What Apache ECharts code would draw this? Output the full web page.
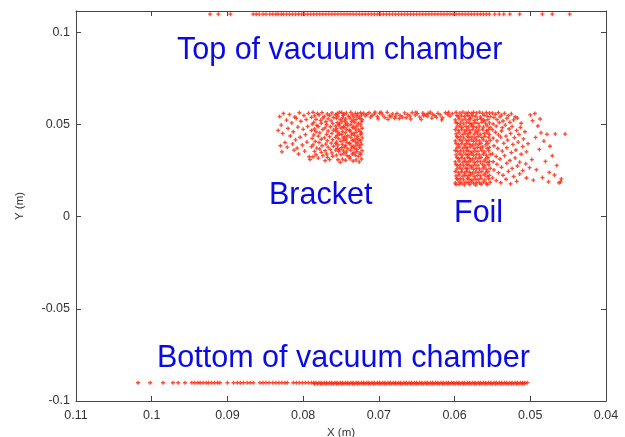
<!DOCTYPE html>
<html><head><meta charset="utf-8">
<script src="https://cdn.jsdelivr.net/npm/echarts@6/dist/echarts.min.js"></script>
<style>html,body{margin:0;padding:0;background:#fff}#c{width:625px;height:437px}</style>
</head><body><div id="c"></div>
<script>
// Tick labels
const xTicks = [0.11, 0.1, 0.09, 0.08, 0.07, 0.06, 0.05, 0.04];
const yTicks = [-0.1, -0.05, 0, 0.05, 0.1];

// Hits on the top of the vacuum chamber (y ~ 0.11)
const topY = 0.1099;
const topX = [.0923,.0912,.0896,.0866,.0862,.0858,.0853,.0849,.0844,.0840,.0836,.0833,.0829,
.0826,.0822,.0818,.0814,.0810,.0806,.0802,.0798,.0794,.0790,.0786,.0782,.0778,.0774,.0770,.0766,.0762,.0758,.0754,.0750,
.0746,.0742,.0738,.0734,.0730,.0726,.0722,.0718,.0714,.0710,.0706,.0702,.0698,.0694,.0690,.0686,.0682,.0678,.0674,.0670,
.0666,.0662,.0658,.0654,.0650,.0646,.0642,.0638,.0634,.0630,.0626,.0622,.0618,.0614,.0610,.0606,.0602,.0598,.0594,.0590,
.0586,.0582,.0578,.0574,.0570,.0566,.0562,.0558,.0554,
.0547,.0541,.0535,.0527,.0514,.0484,.0471,.0448];

// Hits on the bottom of the vacuum chamber (y ~ -0.09)
const bottomY = -0.0901;
const bottomX = [.1018,.1002,.0985,.0972,.0965,.0956,
.0947,.0943,.0939,.0936,.0932,.0928,.0925,.0921,.0917,.0913,.0910,.0900,
.0892,.0887,.0883,.0879,.0874,.0870,.0866,.0857,.0853,.0849,.0845,.0840,.0836,.0832,.0828,.0824,.0821,
.0813,.0809,.0805,.0801,.0797,.0793,.0789,
.0786,.0783,.0779,.0776,.0772,.0769,.0765,.0762,.0758,.0755,.0751,.0748,.0744,.0741,.0737,.0734,.0730,.0727,.0723,.0720,
.0716,.0713,.0709,.0706,.0702,.0699,.0695,.0692,.0688,.0685,.0681,.0678,.0674,.0671,.0667,.0664,.0660,.0657,.0653,.0650,
.0646,.0643,.0639,.0636,.0632,.0629,.0625,.0622,.0618,.0615,.0611,.0608,.0604,.0601,.0597,.0594,.0590,.0587,.0583,.0580,
.0576,.0573,.0569,.0566,.0562,.0559,.0555,.0552,.0548,.0545,.0541,.0538,.0534,.0531,.0527,.0524,.0520,.0517,.0513,.0510,.0507,.0504];
// The dense part of the bottom band is a thick solid streak: second row of hits
const bottomY2 = -0.0906;
const bottomX2 = [.0785,.0781,.0777,.0774,.0770,.0767,.0763,.0760,.0756,.0753,.0749,.0746,.0742,.0739,.0735,.0732,.0728,.0725,.0721,
.0718,.0714,.0711,.0707,.0704,.0700,.0697,.0693,.0690,.0686,.0683,.0679,.0676,.0672,.0669,.0665,.0662,.0658,.0655,.0651,.0648,
.0644,.0641,.0637,.0634,.0630,.0627,.0623,.0620,.0616,.0613,.0609,.0606,.0602,.0599,.0595,.0592,.0588,.0585,.0581,.0578,
.0574,.0571,.0567,.0564,.0560,.0557,.0553,.0550,.0546,.0543,.0539,.0536,.0532,.0529,.0525,.0522,.0518,.0515,.0511,.0508];

// Hits on the bracket
const bracket = [
[.0724,.0564],[.0731,.0561],[.0737,.0566],[.0743,.0562],[.0749,.0565],[.0755,.0560],[.0728,.0558],[.0746,.0557],[.0752,.0567],
[.0723,.0551],[.0729,.0547],[.0735,.0553],[.0740,.0545],[.0747,.0550],[.0754,.0546],[.0733,.0542],[.0757,.0553],[.0726,.0540],
[.0725,.0533],[.0730,.0528],[.0738,.0535],[.0744,.0530],[.0751,.0526],[.0756,.0534],[.0734,.0524],[.0748,.0537],[.0722,.0526],
[.0723,.0515],[.0732,.0511],[.0736,.0518],[.0742,.0508],[.0749,.0514],[.0755,.0510],[.0727,.0506],[.0745,.0519],[.0752,.0504],
[.0724,.0498],[.0729,.0492],[.0737,.0500],[.0741,.0494],[.0747,.0489],[.0753,.0497],[.0733,.0487],[.0757,.0491],[.0744,.0502],
[.0722,.0480],[.0731,.0476],[.0735,.0483],[.0743,.0474],[.0750,.0481],[.0756,.0477],[.0727,.0471],[.0746,.0485],[.0739,.0469],
[.0725,.0463],[.0730,.0458],[.0738,.0465],[.0744,.0456],[.0748,.0462],[.0754,.0459],[.0734,.0452],[.0757,.0466],[.0723,.0454],
[.0724,.0446],[.0732,.0441],[.0736,.0448],[.0741,.0439],[.0749,.0445],[.0755,.0442],[.0728,.0436],[.0745,.0434],[.0752,.0449],
[.0722,.0428],[.0729,.0423],[.0737,.0430],[.0743,.0421],[.0747,.0427],[.0753,.0424],[.0733,.0418],[.0757,.0431],[.0726,.0416],
[.0724,.0411],[.0731,.0406],[.0735,.0413],[.0742,.0403],[.0750,.0409],[.0756,.0405],[.0728,.0400],[.0746,.0414],[.0739,.0398],
[.0723,.0393],[.0730,.0388],[.0738,.0395],[.0744,.0386],[.0748,.0392],[.0754,.0389],[.0734,.0382],[.0757,.0396],[.0726,.0384],
[.0725,.0375],[.0732,.0370],[.0736,.0377],[.0741,.0368],[.0749,.0374],[.0755,.0371],[.0729,.0365],[.0745,.0378],[.0752,.0364],
[.0722,.0358],[.0729,.0353],[.0737,.0360],[.0743,.0351],[.0747,.0357],[.0753,.0354],[.0733,.0347],[.0757,.0361],[.0725,.0345],
[.0724,.0338],[.0731,.0333],[.0735,.0340],[.0742,.0331],[.0750,.0337],[.0756,.0334],[.0727,.0327],[.0746,.0342],[.0739,.0325],
[.0723,.0313],[.0730,.0308],[.0738,.0315],[.0744,.0306],[.0748,.0312],[.0754,.0309],[.0734,.0302],[.0726,.0297],[.0751,.0295],
[.0762,.0563],[.0768,.0557],[.0775,.0565],[.0781,.0560],[.0787,.0566],[.0765,.0549],[.0772,.0544],[.0779,.0552],[.0785,.0547],[.0760,.0538],
[.0767,.0531],[.0774,.0536],[.0783,.0528],[.0789,.0539],[.0763,.0520],[.0770,.0515],[.0777,.0523],[.0786,.0512],[.0761,.0505],[.0769,.0499],
[.0776,.0507],[.0782,.0495],[.0788,.0502],[.0764,.0488],[.0771,.0482],[.0780,.0490],[.0785,.0476],[.0760,.0470],[.0767,.0465],[.0774,.0473],
[.0783,.0461],[.0789,.0468],[.0762,.0452],[.0769,.0447],[.0778,.0455],[.0786,.0443],[.0765,.0434],[.0772,.0428],[.0780,.0437],[.0788,.0425],
[.0761,.0418],[.0768,.0412],[.0776,.0420],[.0784,.0408],[.0763,.0399],[.0770,.0394],[.0779,.0402],[.0787,.0390],[.0760,.0382],[.0767,.0377],
[.0775,.0385],[.0782,.0372],[.0789,.0380],[.0764,.0364],[.0771,.0358],[.0778,.0367],[.0785,.0354],[.0762,.0346],[.0769,.0340],[.0776,.0349],
[.0783,.0336],[.0761,.0328],[.0768,.0322],[.0774,.0331],[.0780,.0318],[.0765,.0310],[.0771,.0304],[.0787,.0325],
[.0793,.0561],[.0799,.0549],[.0805,.0564],[.0811,.0541],[.0818,.0555],[.0826,.0560],[.0831,.0543],[.0796,.0527],[.0803,.0518],[.0809,.0533],
[.0815,.0509],[.0822,.0524],[.0829,.0497],[.0794,.0490],[.0800,.0474],[.0807,.0486],[.0813,.0461],[.0820,.0479],[.0827,.0452],[.0833,.0468],
[.0797,.0445],[.0804,.0431],[.0810,.0417],[.0817,.0438],[.0824,.0402],[.0795,.0405],[.0801,.0389],[.0808,.0372],[.0814,.0395],[.0821,.0377],
[.0830,.0385],[.0798,.0356],[.0806,.0340],[.0792,.0325],[.0812,.0361],[.0828,.0352],[.0791,.0310]];

// Hits along the top strip between bracket and foil
const strip = [
[.0720,.0561],[.0716,.0555],[.0713,.0564],[.0709,.0549],[.0706,.0558],[.0702,.0543],[.0699,.0562],[.0695,.0552],[.0692,.0538],[.0689,.0566],
[.0686,.0547],[.0682,.0557],[.0679,.0534],[.0676,.0560],[.0672,.0550],[.0669,.0541],[.0666,.0563],[.0662,.0555],[.0659,.0546],[.0656,.0565],
[.0652,.0551],[.0649,.0559],[.0646,.0540],[.0642,.0562],[.0639,.0553],[.0636,.0545],[.0632,.0567],[.0629,.0556],[.0626,.0548],[.0622,.0561],
[.0619,.0552],[.0616,.0537],[.0612,.0564],[.0609,.0555],[.0606,.0546],[.0603,.0559],[.0701,.0531],[.0688,.0528],[.0673,.0533],[.0658,.0530],
[.0644,.0527],[.0630,.0535],[.0617,.0525],[.0711,.0540],[.0697,.0566],[.0684,.0542],[.0664,.0537],[.0651,.0567],[.0635,.0560],[.0624,.0539],
[.0608,.0566],[.0718,.0547],[.0705,.0567],[.0678,.0546],[.0641,.0549]];

// Hits on the foil
const foil = [
[.0598,.0566],[.0593,.0562],[.0589,.0567],[.0585,.0561],[.0582,.0565],[.0578,.0560],[.0575,.0566],[.0571,.0563],[.0567,.0567],[.0563,.0561],[.0558,.0565],[.0554,.0562],
[.0597,.0549],[.0595,.0543],[.0591,.0547],[.0587,.0544],[.0583,.0550],[.0580,.0542],[.0576,.0548],[.0572,.0545],[.0566,.0541],[.0561,.0550],[.0557,.0546],[.0553,.0543],
[.0599,.0525],[.0594,.0531],[.0590,.0524],[.0586,.0529],[.0581,.0526],[.0579,.0532],[.0574,.0523],[.0570,.0528],[.0565,.0530],[.0562,.0524],[.0556,.0527],[.0560,.0520],
[.0598,.0511],[.0596,.0505],[.0592,.0509],[.0588,.0504],[.0584,.0512],[.0580,.0507],[.0577,.0503],[.0573,.0510],[.0569,.0506],[.0564,.0512],[.0559,.0504],[.0554,.0509],
[.0597,.0487],[.0593,.0492],[.0590,.0485],[.0585,.0490],[.0582,.0486],[.0578,.0493],[.0575,.0488],[.0571,.0484],[.0567,.0491],[.0562,.0486],[.0557,.0493],[.0553,.0484],
[.0599,.0472],[.0595,.0467],[.0591,.0473],[.0587,.0466],[.0584,.0471],[.0580,.0468],[.0576,.0474],[.0572,.0465],[.0568,.0470],[.0563,.0473],[.0558,.0467],[.0555,.0472],
[.0598,.0449],[.0594,.0455],[.0589,.0447],[.0586,.0453],[.0582,.0450],[.0579,.0456],[.0574,.0448],[.0570,.0454],[.0566,.0446],[.0561,.0452],[.0557,.0455],[.0554,.0447],
[.0597,.0435],[.0596,.0429],[.0592,.0434],[.0588,.0428],[.0583,.0436],[.0581,.0430],[.0577,.0433],[.0573,.0427],[.0569,.0435],[.0564,.0429],[.0560,.0436],[.0555,.0431],
[.0599,.0411],[.0593,.0416],[.0590,.0410],[.0585,.0415],[.0582,.0412],[.0578,.0417],[.0575,.0409],[.0571,.0414],[.0567,.0411],[.0562,.0417],[.0558,.0409],[.0553,.0414],
[.0598,.0397],[.0595,.0391],[.0591,.0396],[.0587,.0390],[.0584,.0398],[.0580,.0393],[.0576,.0389],[.0572,.0395],[.0568,.0392],[.0565,.0398],[.0559,.0390],[.0556,.0396],
[.0597,.0373],[.0594,.0378],[.0589,.0372],[.0586,.0377],[.0583,.0374],[.0579,.0379],[.0574,.0371],[.0570,.0376],[.0566,.0373],[.0563,.0378],[.0557,.0371],[.0554,.0376],
[.0599,.0359],[.0596,.0353],[.0592,.0358],[.0588,.0352],[.0584,.0360],[.0581,.0355],[.0577,.0351],[.0573,.0357],[.0569,.0354],[.0564,.0359],[.0560,.0352],[.0555,.0358],
[.0598,.0335],[.0593,.0340],[.0590,.0334],[.0585,.0339],[.0582,.0336],[.0578,.0341],[.0575,.0333],[.0571,.0338],[.0567,.0335],[.0562,.0340],[.0558,.0333],[.0553,.0338],
[.0597,.0321],[.0595,.0315],[.0591,.0320],[.0587,.0314],[.0583,.0322],[.0580,.0317],[.0576,.0313],[.0572,.0319],[.0568,.0316],[.0565,.0321],[.0559,.0314],[.0556,.0320],
[.0599,.0297],[.0594,.0302],[.0589,.0296],[.0586,.0301],[.0582,.0298],[.0579,.0303],[.0574,.0295],[.0570,.0300],[.0566,.0297],[.0561,.0302],[.0557,.0295],[.0554,.0300],
[.0598,.0283],[.0596,.0277],[.0592,.0282],[.0588,.0276],[.0584,.0284],[.0581,.0279],[.0577,.0275],[.0573,.0281],[.0569,.0278],[.0563,.0283],[.0560,.0276],[.0555,.0282],
[.0597,.0259],[.0593,.0264],[.0590,.0258],[.0585,.0263],[.0583,.0260],[.0578,.0265],[.0575,.0257],[.0571,.0262],[.0567,.0259],[.0562,.0264],[.0558,.0257],[.0553,.0262],
[.0599,.0245],[.0595,.0239],[.0591,.0244],[.0587,.0238],[.0584,.0246],[.0580,.0241],[.0576,.0237],[.0572,.0243],[.0568,.0240],[.0564,.0245],[.0559,.0238],[.0556,.0244],
[.0598,.0221],[.0594,.0226],[.0589,.0220],[.0586,.0225],[.0582,.0222],[.0579,.0227],[.0574,.0219],[.0570,.0224],[.0566,.0221],[.0561,.0226],[.0557,.0219],[.0554,.0224],
[.0597,.0207],[.0596,.0201],[.0592,.0206],[.0588,.0200],[.0583,.0208],[.0581,.0203],[.0577,.0199],[.0573,.0205],[.0569,.0202],[.0565,.0207],[.0560,.0200],[.0555,.0206],
[.0599,.0183],[.0593,.0188],[.0590,.0182],[.0585,.0187],[.0582,.0184],[.0578,.0189],[.0575,.0181],[.0571,.0186],[.0567,.0183],[.0562,.0188],[.0558,.0181],[.0553,.0186],
[.0598,.0174],[.0594,.0176],[.0587,.0173],[.0580,.0175],[.0572,.0172],[.0565,.0176],[.0557,.0174],
[.0550,.0563],[.0546,.0556],[.0542,.0565],[.0538,.0551],[.0534,.0561],[.0529,.0548],[.0525,.0558],[.0520,.0541],[.0548,.0538],[.0544,.0527],
[.0540,.0542],[.0536,.0519],[.0531,.0533],[.0527,.0512],[.0522,.0525],[.0517,.0535],[.0512,.0507],[.0549,.0503],[.0545,.0491],[.0541,.0511],
[.0537,.0483],[.0533,.0497],[.0528,.0476],[.0524,.0489],[.0518,.0468],[.0513,.0484],[.0507,.0461],[.0550,.0472],[.0546,.0458],[.0542,.0444],
[.0538,.0465],[.0532,.0437],[.0526,.0452],[.0521,.0429],[.0515,.0446],[.0509,.0422],[.0549,.0426],[.0544,.0411],[.0539,.0432],[.0535,.0398],
[.0530,.0415],[.0523,.0392],[.0516,.0405],[.0510,.0381],[.0503,.0396],[.0548,.0385],[.0543,.0370],[.0537,.0356],[.0531,.0374],[.0525,.0348],
[.0519,.0362],[.0512,.0339],[.0505,.0352],[.0550,.0341],[.0545,.0327],[.0540,.0313],[.0534,.0331],[.0527,.0305],[.0520,.0319],[.0514,.0296],
[.0506,.0287],[.0498,.0310],[.0549,.0298],[.0544,.0284],[.0538,.0268],[.0531,.0290],[.0524,.0262],[.0517,.0275],[.0510,.0250],[.0501,.0266],
[.0548,.0254],[.0542,.0239],[.0536,.0225],[.0529,.0246],[.0522,.0218],[.0514,.0232],[.0505,.0210],[.0550,.0211],[.0545,.0196],[.0539,.0184],
[.0532,.0203],[.0526,.0178],[.0518,.0192],[.0496,.0198],[.0484,.0212],[.0476,.0189],[.0468,.0226],[.0462,.0184],[.0459,.0205],
[.0500,.0552],[.0497,.0521],[.0490,.0492],[.0486,.0455],[.0478,.0447],[.0467,.0449],[.0454,.0448],[.0493,.0430],[.0482,.0410],[.0474,.0382],
[.0488,.0365],[.0471,.0330],[.0480,.0300],[.0465,.0278],[.0492,.0255],[.0475,.0240],[.0460,.0189],[.0487,.0530],[.0494,.0560]];

// Annotation labels
const labels = ['Top of vacuum chamber', 'Bracket', 'Foil', 'Bottom of vacuum chamber'];

const topPts = topX.map(x => [x, topY]);
const bottomPts = bottomX.map(x => [x, bottomY]).concat(bottomX2.map(x => [x, bottomY2]));

const chart = echarts.init(document.getElementById('c'), null, {renderer: 'canvas'});
const fmt = v => {
  const r = Math.round(v * 1000) / 1000;
  const isTick = yTicks.concat(xTicks).some(t => Math.abs(t - r) < 1e-9);
  return isTick ? String(r) : '';
};
const FONT = 'Liberation Sans, Arial, sans-serif';
const axisCommon = {
  axisLine: {show: true, onZero: false, lineStyle: {color: '#444', width: 1}},
  axisTick: {show: true, inside: true, length: 5, lineStyle: {color: '#444', width: 1}},
  splitLine: {show: false},
  axisLabel: {color: '#333', fontSize: 12.5, fontFamily: FONT, formatter: fmt}
};
const plus = 'path://M1,0H2V1H3V2H2V3H1V2H0V1H1Z';
const ser = d => ({type: 'scatter', data: d, symbol: plus, symbolSize: 4, xAxisIndex: 0, yAxisIndex: 0,
  itemStyle: {color: '#ff2a12', opacity: 0.85}, silent: true, animation: false});
const tfont = '30.5px "Liberation Sans", Arial, sans-serif';
const tcol = '#0a0ae6';

chart.setOption({
  animation: false,
  backgroundColor: '#fff',
  grid: {left: 76, right: 19, top: 11, bottom: 36, show: false, containLabel: false, outerBoundsMode: 'none'},
  xAxis: [
    Object.assign({}, axisCommon, {type: 'value', min: 0.04, max: 0.11, interval: 0.01, inverse: true, position: 'bottom',
      name: 'X (m)', nameLocation: 'middle', nameGap: 24,
      nameTextStyle: {color: '#333', fontSize: 11.5, fontFamily: FONT},
      axisLabel: Object.assign({}, axisCommon.axisLabel, {margin: 8})}),
    Object.assign({}, axisCommon, {type: 'value', min: 0.04, max: 0.11, interval: 0.01, inverse: true, position: 'top',
      axisLabel: {show: false}})
  ],
  yAxis: [
    Object.assign({}, axisCommon, {type: 'value', min: -0.1, max: 0.1116, interval: 0.05, position: 'left',
      name: 'Y (m)', nameLocation: 'middle', nameGap: 50,
      nameTextStyle: {color: '#333', fontSize: 11.5, fontFamily: FONT},
      axisLabel: Object.assign({}, axisCommon.axisLabel, {margin: 6})}),
    Object.assign({}, axisCommon, {type: 'value', min: -0.1, max: 0.1116, interval: 0.05, position: 'right',
      axisLabel: {show: false}})
  ],
  series: [ser(topPts), ser(bottomPts), ser(bracket), ser(strip), ser(foil)],
  graphic: [
    {type: 'text', left: 177, top: 35, style: {text: labels[0], font: tfont, fill: tcol}},
    {type: 'text', left: 269, top: 180, style: {text: labels[1], font: tfont, fill: tcol}},
    {type: 'text', left: 454, top: 198, style: {text: labels[2], font: tfont, fill: tcol}},
    {type: 'text', left: 157, top: 343, style: {text: labels[3], font: tfont, fill: tcol}}
  ]
});
</script>
</body></html>
